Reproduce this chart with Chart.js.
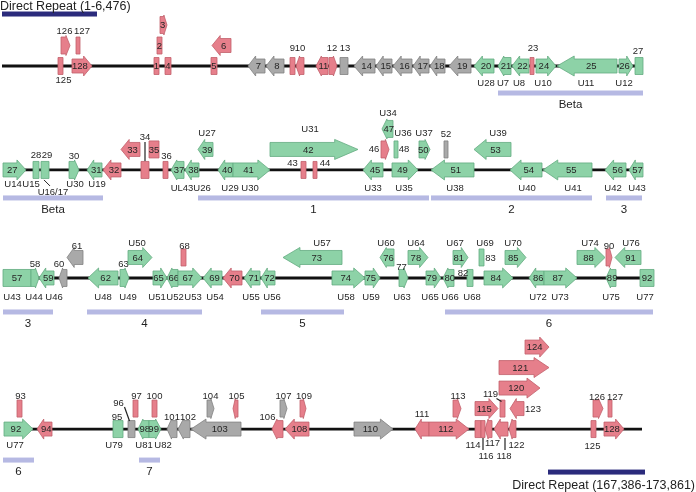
<!DOCTYPE html>
<html>
<head>
<meta charset="utf-8">
<title>Genome map</title>
<script src="https://cdn.jsdelivr.net/npm/chart.js"></script>
<style>
    html, body { margin: 0; padding: 0; background: #fff; }
    #wrap { width: 696px; height: 492px; }
</style>
</head>
<body>
<div id="wrap"><canvas id="map" width="696" height="492"></canvas></div>
<script>
// genes per row: [id, start, end, strand, lane, kind]
// start/end = position along the row's track; strand '+', '-' or '0' (no arrow)
// lane 0 = on the backbone, 1.. = stacked above it
// kind: 'c' conserved (green), 'u' unique (red), 'o' other (grey)
const row1Genes = [
    [125, 58, 63, '0', 0, 'u'], [126, 61, 70, '+', 1, 'u'], [127, 76, 80, '0', 1, 'u'],
    [128, 72, 92, '+', 0, 'u'], [1, 154, 159, '0', 0, 'u'], [2, 157, 162, '0', 1, 'u'],
    [3, 160, 167, '+', 2, 'u'], [4, 165, 171, '0', 0, 'u'], [5, 211, 217, '0', 0, 'u'],
    [6, 212, 231, '-', 1, 'u'], [7, 248, 265, '-', 0, 'o'], [8, 266, 284, '-', 0, 'o'],
    [9, 290, 295, '0', 0, 'u'], [10, 296, 304, '-', 0, 'u'], [11, 316, 328, '-', 0, 'u'],
    [12, 329, 337, '+', 0, 'u'], [13, 340, 348, '0', 0, 'o'], [14, 354, 375, '-', 0, 'o'],
    [15, 376, 392, '-', 0, 'o'], [16, 393, 412, '-', 0, 'o'], [17, 413, 429, '-', 0, 'o'],
    [18, 430, 445, '-', 0, 'o'], [19, 449, 471, '-', 0, 'o'], [20, 474, 494, '-', 0, 'c'],
    [21, 498, 511, '-', 0, 'c'], [22, 512, 529, '-', 0, 'c'], [23, 530, 534, '0', 0, 'u'],
    [24, 536, 556, '+', 0, 'c'], [25, 557, 617, '-', 0, 'c'], [26, 619, 633, '+', 0, 'c'],
    [27, 635, 643, '0', 0, 'c']
];
const row2Genes = [
    [27, 3, 26, '+', 0, 'c'], [28, 33, 39, '0', 0, 'c'], [29, 41, 49, '0', 0, 'c'],
    [30, 69, 79, '+', 0, 'c'], [31, 87, 102, '-', 0, 'c'], [32, 103, 121, '-', 0, 'u'],
    [33, 121, 140, '-', 1, 'u'], [34, 141, 149, '0', 0, 'u'], [35, 149, 159, '0', 1, 'u'],
    [36, 163, 168, '0', 0, 'u'], [37, 171, 184, '-', 0, 'c'], [38, 185, 199, '-', 0, 'c'],
    [39, 198, 213, '-', 1, 'c'], [40, 218, 233, '-', 0, 'c'], [41, 233, 270, '+', 0, 'c'],
    [42, 270, 358, '+', 1, 'c'], [43, 301, 306, '0', 0, 'u'], [44, 313, 317, '0', 0, 'u'],
    [45, 363, 383, '-', 0, 'c'], [46, 381, 389, '+', 1, 'u'], [47, 382, 393, '-', 2, 'c'],
    [48, 394, 398, '0', 1, 'c'], [49, 392, 418, '+', 0, 'c'], [50, 419, 430, '+', 1, 'c'],
    [51, 431, 474, '-', 0, 'c'], [52, 444, 448, '0', 1, 'o'], [53, 474, 511, '-', 1, 'c'],
    [54, 510, 542, '-', 0, 'c'], [55, 543, 592, '-', 0, 'c'], [56, 605, 626, '-', 0, 'c'],
    [57, 629, 643, '-', 0, 'c']
];
const row3Genes = [
    [57, 3, 31, '0', 0, 'c'], [58, 31, 39, '+', 0, 'c'], [59, 39, 54, '-', 0, 'c'],
    [60, 59, 67, '-', 0, 'o'], [61, 67, 83, '-', 1, 'o'], [62, 88, 118, '-', 0, 'c'],
    [63, 120, 129, '+', 0, 'c'], [64, 128, 152, '+', 1, 'c'], [65, 153, 167, '+', 0, 'c'],
    [66, 167, 178, '-', 0, 'c'], [67, 178, 202, '+', 0, 'c'], [68, 181, 186, '0', 1, 'u'],
    [69, 203, 222, '-', 0, 'c'], [70, 223, 242, '-', 0, 'u'], [71, 244, 260, '-', 0, 'c'],
    [72, 261, 275, '-', 0, 'c'], [73, 283, 342, '-', 1, 'c'], [74, 332, 365, '+', 0, 'c'],
    [75, 365, 380, '+', 0, 'c'], [76, 380, 394, '-', 1, 'c'], [77, 399, 408, '+', 0, 'c'],
    [78, 408, 428, '+', 1, 'c'], [79, 426, 441, '+', 0, 'c'], [80, 443, 454, '-', 0, 'c'],
    [81, 453, 468, '+', 1, 'c'], [82, 467, 473, '0', 0, 'c'], [83, 479, 484, '0', 1, 'c'],
    [84, 484, 513, '+', 0, 'c'], [85, 505, 526, '+', 1, 'c'], [86, 529, 544, '-', 0, 'c'],
    [87, 544, 577, '+', 0, 'c'], [88, 577, 605, '+', 1, 'c'], [89, 606, 616, '-', 0, 'c'],
    [90, 606, 612, '+', 1, 'u'], [91, 615, 641, '-', 1, 'c'], [92, 640, 654, '0', 0, 'c']
];
const row4Genes = [
    [92, 4, 33, '+', 0, 'c'], [93, 17, 22, '0', 1, 'u'], [94, 37, 52, '-', 0, 'u'],
    [95, 113, 123, '0', 0, 'c'], [96, 128, 135, '0', 0, 'o'], [97, 133, 138, '0', 1, 'u'],
    [98, 138, 149, '-', 0, 'c'], [99, 149, 161, '+', 0, 'c'], [100, 152, 157, '0', 1, 'u'],
    [101, 167, 177, '-', 0, 'o'], [102, 178, 190, '-', 0, 'o'], [103, 191, 241, '-', 0, 'o'],
    [104, 207, 214, '+', 1, 'o'], [105, 233, 238, '-', 1, 'u'], [106, 272, 283, '-', 0, 'u'],
    [107, 280, 287, '+', 1, 'o'], [108, 285, 309, '-', 0, 'u'], [109, 300, 306, '+', 1, 'u'],
    [110, 354, 393, '+', 0, 'o'], [111, 415, 429, '-', 0, 'u'], [112, 429, 469, '+', 0, 'u'],
    [113, 453, 461, '+', 1, 'u'], [114, 475, 481, '0', 0, 'u'], [115, 475, 498, '+', 1, 'u'],
    [116, 481, 485, '0', 0, 'u'], [117, 485, 492, '-', 0, 'u'], [118, 494, 508, '-', 0, 'u'],
    [119, 500, 505, '0', 1, 'u'], [120, 499, 540, '+', 2, 'u'], [121, 499, 549, '+', 3, 'u'],
    [122, 509, 516, '-', 0, 'u'], [123, 510, 524, '-', 1, 'u'], [124, 525, 549, '+', 4, 'u'],
    [125, 591, 596, '0', 0, 'u'], [126, 593, 603, '+', 1, 'u'], [127, 608, 612, '0', 1, 'u'],
    [128, 604, 624, '+', 0, 'u']
];

// backbone extent of each row
const rowSpans = [[2, 643], [3, 643], [3, 654], [4, 642]];

// gene names: [text, position, lane]; lane 0 = under the backbone, else above that lane
const unitsRow1 = [['U28', 486, 0], ['U7', 503, 0], ['U8', 519, 0], ['U10', 543, 0], ['U11', 586, 0], ['U12', 624, 0]];
const unitsRow2 = [
    ['U14', 13, 0], ['U15', 31, 0], ['U16/17', 53, 0], ['U30', 75, 0], ['U19', 97, 0],
    ['UL43', 182, 0], ['U26', 202, 0], ['U29', 230, 0], ['U30', 250, 0], ['U33', 373, 0],
    ['U35', 404, 0], ['U38', 455, 0], ['U40', 527, 0], ['U41', 573, 0], ['U42', 613, 0], ['U43', 637, 0],
    ['U27', 207, 1], ['U31', 310, 1], ['U34', 388, 2], ['U36', 403, 1], ['U37', 424, 1], ['U39', 498, 1]
];
const unitsRow3 = [
    ['U43', 12, 0], ['U44', 34, 0], ['U46', 54, 0], ['U48', 103, 0], ['U49', 128, 0], ['U51', 157, 0],
    ['U52', 175, 0], ['U53', 193, 0], ['U54', 215, 0], ['U55', 251, 0], ['U56', 272, 0], ['U58', 346, 0],
    ['U59', 371, 0], ['U63', 402, 0], ['U65', 430, 0], ['U66', 450, 0], ['U68', 472, 0], ['U72', 538, 0],
    ['U73', 560, 0], ['U75', 611, 0], ['U77', 645, 0],
    ['U50', 137, 1], ['U57', 322, 1], ['U60', 386, 1], ['U64', 416, 1], ['U67', 455, 1],
    ['U69', 485, 1], ['U70', 513, 1], ['U74', 590, 1], ['U76', 631, 1]
];
const unitsRow4 = [['U77', 15, 0], ['U79', 114, 0], ['U81', 144, 0], ['U82', 163, 0]];

// gene blocks under each row: [name, start, end]
const blocksRow1 = [['Beta', 498, 643]];
const blocksRow2 = [['Beta', 3, 103], ['1', 198, 429], ['2', 431, 592], ['3', 606, 642]];
const blocksRow3 = [['3', 3, 53], ['4', 87, 202], ['5', 261, 344], ['6', 445, 653]];
const blocksRow4 = [['6', 3, 34], ['7', 139, 160]];

// direct repeats: [text, row, start, end]
const repeats = [
    ['Direct Repeat (1-6,476)', 0, 2, 97],
    ['Direct Repeat (167,386-173,861)', 3, 548, 645]
];

// ---- layout (px) ----
const ROW_BASE = [3.22, 8.29, 13.56, 20.93];     // backbone of each row, lane units
const UNIT_BELOW = [17.5, 18, 19, 16];
const UNIT_ABOVE = [-16, -16, -14, -14];
const BLOCK_DY = [27, 28, 34, 31];
const FONT = '"Liberation Sans", Arial, sans-serif';
const COLORS = {
    c: ['#8dd2a7', '#63ab80'],
    u: ['#e67f8b', '#c25f6b'],
    o: ['#a9a9a9', '#828282']
};

// label offsets from gene centre for labels drawn outside the shape
const labelAt = {
    '1:125': [3, 14], '1:126': [-1, -14], '1:127': [4, -14], '1:9': [0, -18], '1:10': [0, -18],
    '1:12': [-1, -18], '1:13': [1, -18], '1:23': [1, -18], '1:27': [-1, -15],
    '2:28': [0, -15], '2:29': [2, -15], '2:30': [0, -14], '2:34': [0, -33], '2:36': [1, -14],
    '2:43': [-11, -7], '2:44': [10, -7], '2:46': [-11, 0], '2:48': [8, 0], '2:52': [0, -15],
    '3:58': [0, -14], '3:60': [-4, -14], '3:61': [2, -11], '3:63': [-1, -14], '3:68': [1, -11],
    '3:77': [-2, -11], '3:82': [-7, -5], '3:83': [9, 1], '3:90': [0, -11],
    '4:93': [1, -12], '4:95': [-1, -12], '4:96': [-13, -26], '4:97': [1, -12], '4:100': [0, -12],
    '4:101': [0, -12], '4:102': [4, -12], '4:104': [0, -12], '4:105': [1, -12], '4:106': [-10, -12],
    '4:107': [0, -12], '4:109': [1, -12], '4:111': [0, -15], '4:113': [1, -12], '4:114': [-5, 16],
    '4:116': [3, 27], '4:117': [4, 14], '4:118': [3, 27], '4:119': [-12, -14], '4:122': [4, 16],
    '4:123': [16, 1], '4:125': [-1, 17], '4:126': [-1, -11], '4:127': [5, -11]
};
const leaders = {
    '2:34': [[0, -28], [0, -9]],
    '4:96': [[-7, -22], [-2, -8]],
    '4:116': [[0, 9], [0, 21]],
    '4:118': [[4, 9], [4, 21]],
    '4:119': [[-6, -10], [-1, -7]]
};
const unitNudge = {
    '2:U14:13': [0, -4], '2:U15:31': [0, -4], '2:U30:75': [0, -4], '2:U19:97': [0, -4],
    '2:U16/17:53': [0, 4], '2:U31:310': [0, -4]
};
const unitLeaders = { '2:U16/17:53': [[-9, -12], [-3, -6]] };

const rows = [
    { genes: row1Genes, units: unitsRow1, blocks: blocksRow1 },
    { genes: row2Genes, units: unitsRow2, blocks: blocksRow2 },
    { genes: row3Genes, units: unitsRow3, blocks: blocksRow3 },
    { genes: row4Genes, units: unitsRow4, blocks: blocksRow4 }
];

function geneShape(ctx, x1, x2, yc, strand) {
    const w = x2 - x1;
    ctx.beginPath();
    if (strand === '0') {
        ctx.rect(x1, yc - 8.5, w, 17);
        return 0;
    }
    const hb = w < 14 ? 8.5 : 7;
    const hh = 10;
    const hl = Math.min(w * 0.45, 4 + w * 0.22);
    if (strand === '+') {
        ctx.moveTo(x1, yc - hb);
        ctx.lineTo(x2 - hl, yc - hb);
        ctx.lineTo(x2 - hl, yc - hh);
        ctx.lineTo(x2, yc);
        ctx.lineTo(x2 - hl, yc + hh);
        ctx.lineTo(x2 - hl, yc + hb);
        ctx.lineTo(x1, yc + hb);
    } else {
        ctx.moveTo(x2, yc - hb);
        ctx.lineTo(x1 + hl, yc - hb);
        ctx.lineTo(x1 + hl, yc - hh);
        ctx.lineTo(x1, yc);
        ctx.lineTo(x1 + hl, yc + hh);
        ctx.lineTo(x1 + hl, yc + hb);
        ctx.lineTo(x2, yc + hb);
    }
    ctx.closePath();
    return strand === '+' ? -hl / 4 : hl / 4;
}

const genomeMap = {
    id: 'genomeMap',
    afterDraw(chart) {
        const { ctx, scales: { x, y } } = chart;
        ctx.save();
        ctx.textAlign = 'center';
        ctx.textBaseline = 'middle';

        rows.forEach((row, r) => {
            const key = r + 1;
            const baseY = y.getPixelForValue(ROW_BASE[r]);

            // backbone
            ctx.strokeStyle = '#111';
            ctx.lineWidth = 2.8;
            ctx.beginPath();
            ctx.moveTo(x.getPixelForValue(rowSpans[r][0]), baseY);
            ctx.lineTo(x.getPixelForValue(rowSpans[r][1]), baseY);
            ctx.stroke();

            // blocks
            row.blocks.forEach(([name, s, e]) => {
                const x1 = x.getPixelForValue(s), x2 = x.getPixelForValue(e);
                ctx.fillStyle = '#b6b9e3';
                ctx.fillRect(x1, baseY + BLOCK_DY[r] - 2.5, x2 - x1, 5);
                ctx.fillStyle = '#222';
                ctx.font = '11.5px ' + FONT;
                ctx.fillText(name, (x1 + x2) / 2, baseY + BLOCK_DY[r] + 12);
            });

            // genes
            row.genes.forEach(([id, s, e, strand, lane, kind]) => {
                const x1 = x.getPixelForValue(s), x2 = x.getPixelForValue(e);
                const yc = y.getPixelForValue(ROW_BASE[r] - lane);
                const shift = geneShape(ctx, x1, x2, yc, strand);
                ctx.fillStyle = COLORS[kind][0];
                ctx.fill();
                ctx.strokeStyle = COLORS[kind][1];
                ctx.lineWidth = 0.8;
                ctx.stroke();

                const k = key + ':' + id;
                const cx = (x1 + x2) / 2;
                ctx.font = '9.5px ' + FONT;
                ctx.fillStyle = '#262626';
                if (labelAt[k]) {
                    ctx.fillText(String(id), cx + labelAt[k][0], yc + labelAt[k][1]);
                } else {
                    ctx.fillText(String(id), cx + shift, yc + 0.5);
                }
                if (leaders[k]) {
                    const [[ax, ay], [bx, by]] = leaders[k];
                    ctx.strokeStyle = '#222';
                    ctx.lineWidth = 1.2;
                    ctx.beginPath();
                    ctx.moveTo(cx + ax, yc + ay);
                    ctx.lineTo(cx + bx, yc + by);
                    ctx.stroke();
                }
            });

            // gene names
            ctx.font = '9.5px ' + FONT;
            row.units.forEach(([txt, pos, lane]) => {
                const k = key + ':' + txt + ':' + pos;
                const nudge = unitNudge[k] || [0, 0];
                const px = x.getPixelForValue(pos) + nudge[0];
                const py = (lane === 0
                    ? baseY + UNIT_BELOW[r]
                    : y.getPixelForValue(ROW_BASE[r] - lane) + UNIT_ABOVE[r]) + nudge[1];
                ctx.fillStyle = '#262626';
                ctx.fillText(txt, px, py);
                if (unitLeaders[k]) {
                    const [[ax, ay], [bx, by]] = unitLeaders[k];
                    ctx.strokeStyle = '#222';
                    ctx.lineWidth = 1;
                    ctx.beginPath();
                    ctx.moveTo(px + ax, py + ay);
                    ctx.lineTo(px + bx, py + by);
                    ctx.stroke();
                }
            });
        });

        // direct repeats
        repeats.forEach(([txt, r, s, e], i) => {
            const baseY = y.getPixelForValue(ROW_BASE[r]);
            const x1 = x.getPixelForValue(s), x2 = x.getPixelForValue(e);
            const barY = i === 0 ? baseY - 52 : baseY + 43;
            ctx.fillStyle = '#2b2b7c';
            ctx.fillRect(x1, barY - 2.5, x2 - x1, 5);
            ctx.fillStyle = '#222';
            ctx.font = '12.5px ' + FONT;
            ctx.textBaseline = 'alphabetic';
            if (i === 0) {
                ctx.textAlign = 'left';
                ctx.fillText(txt, x.getPixelForValue(0), baseY - 56.5);
            } else {
                ctx.textAlign = 'right';
                ctx.fillText(txt, x.getPixelForValue(695), baseY + 60);
            }
        });
        ctx.restore();
    }
};

new Chart(document.getElementById('map'), {
    type: 'scatter',
    data: { datasets: [] },
    options: {
        responsive: false,
        animation: false,
        layout: { padding: 0 },
        plugins: { legend: { display: false }, tooltip: { enabled: false } },
        scales: {
            x: { type: 'linear', min: 0, max: 696, display: false },
            y: { type: 'linear', min: 0, max: 24, reverse: true, display: false }
        }
    },
    plugins: [genomeMap]
});
</script>
</body>
</html>
